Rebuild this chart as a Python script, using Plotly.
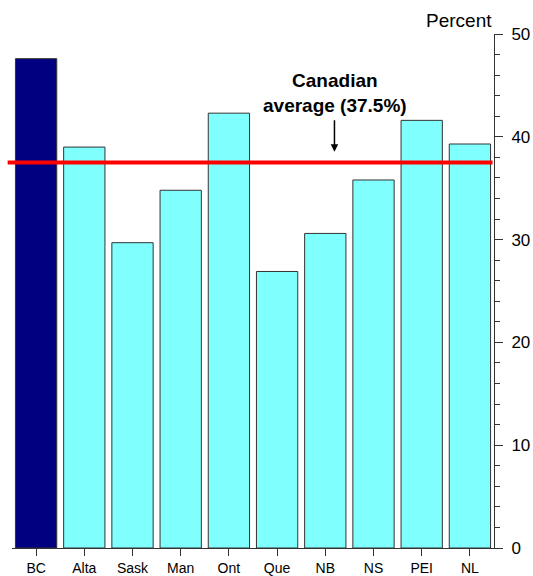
import plotly.graph_objects as go

provinces = ["BC", "Alta", "Sask", "Man", "Ont", "Que", "NB", "NS", "PEI", "NL"]
values = [47.6, 39.0, 29.7, 34.8, 42.3, 26.9, 30.6, 35.8, 41.6, 39.3]
bar_colors = ["#000080"] + ["#80FFFF"] * 9
canadian_average = 37.5

FONT = "Arial, Liberation Sans, sans-serif"

fig = go.Figure()
fig.add_trace(go.Bar(
    x=provinces, y=values,
    marker=dict(color=bar_colors, line=dict(color="#333333", width=1)),
    width=0.857,
))

fig.add_shape(type="line", xref="paper", yref="y",
              x0=-0.009, x1=0.997, y0=canadian_average, y1=canadian_average,
              line=dict(color="#FF0000", width=4))

fig.add_annotation(x=6.21, y=44.3, xref="x", yref="y",
                   text="<b>Canadian<br>average (37.5%)</b>", showarrow=False,
                   yanchor="middle", font=dict(size=19, color="black", family=FONT))
fig.add_annotation(x=6.19, y=38.55, xref="x", yref="y",
                   ax=0, ay=-33, text="", showarrow=True,
                   arrowhead=2, arrowsize=1, arrowwidth=1.5, arrowcolor="black")
fig.add_annotation(x=1.0, y=1.0, xref="paper", yref="paper", xanchor="right", yanchor="bottom",
                   yshift=1, text="Percent", showarrow=False,
                   font=dict(size=19, color="black", family=FONT))

fig.update_layout(
    width=533, height=576,
    margin=dict(l=12, r=39, t=34, b=28, autoexpand=False),
    plot_bgcolor="white", paper_bgcolor="white",
    showlegend=False,
    font=dict(family=FONT, color="black"),
    xaxis=dict(range=[-0.5, 9.5], showline=True, linecolor="#333333", linewidth=1,
               ticks="outside", ticklen=7, tickcolor="#333333",
               tickfont=dict(size=14), showgrid=False, zeroline=False),
    yaxis=dict(range=[0, 50], side="right", showline=True, linecolor="#333333", linewidth=1,
               ticks="outside", ticklen=8, tickcolor="#333333", dtick=10,
               tickfont=dict(size=17), ticklabelstandoff=5,
               showgrid=False, zeroline=False,
               minor=dict(ticks="outside", ticklen=5, dtick=2, tickcolor="#333333", showgrid=False)),
)

fig.write_html("out.html",
               config={"displayModeBar": False},
               post_script="document.body.style.margin='0';document.body.style.overflow='hidden';")
